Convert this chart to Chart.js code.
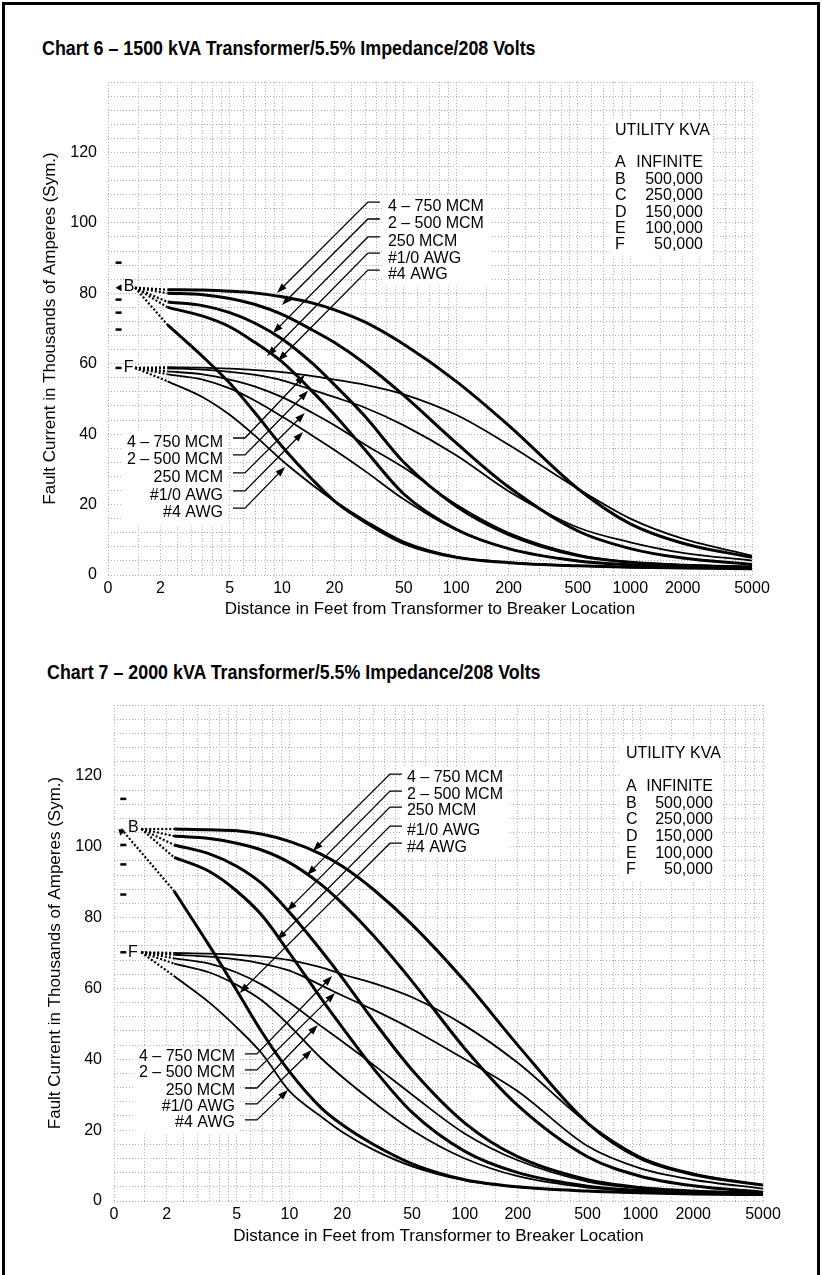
<!DOCTYPE html>
<html>
<head>
<meta charset="utf-8">
<title>Fault current vs distance</title>
<script src="https://cdn.jsdelivr.net/npm/chart.js@4.4.1/dist/chart.umd.min.js"></script>
<style>
  html, body { margin: 0; padding: 0; background: #fff; }
  body { position: relative; width: 822px; height: 1275px; overflow: hidden; }
  .frame { position: absolute; left: 2px; top: 2px; width: 812px; height: 1300px; border: 3px solid #000; }
  .heading { position: absolute; font: bold 19.5px "Liberation Sans", Arial, sans-serif; color: #000; white-space: nowrap;
             transform: scaleX(0.915); transform-origin: left center; }
  canvas { position: absolute; left: 0; }
</style>
</head>
<body>
<div class="frame"></div>
<div class="heading" style="left:42px; top:37px">Chart 6 – 1500 kVA Transformer/5.5% Impedance/208 Volts</div>
<div class="heading" style="left:47px; top:661px">Chart 7 – 2000 kVA Transformer/5.5% Impedance/208 Volts</div>
<canvas id="chart6" width="822" height="640" style="top:0"></canvas>
<canvas id="chart7" width="822" height="635" style="top:640px"></canvas>
<script>
Chart.defaults.font.family = '"Liberation Sans", Arial, Helvetica, sans-serif';
Chart.defaults.color = '#000';

// distances (ft) the curves are sampled at
const distances = [2.2, 3.5, 5, 7, 10, 15, 20, 30, 50, 100, 200, 500, 1000, 2000, 5000];
const conductors = ['4 – 750 MCM', '2 – 500 MCM', '250 MCM', '#1/0 AWG', '#4 AWG'];
const xTickValues = [1, 2, 5, 10, 20, 50, 100, 200, 500, 1000, 2000, 5000];
const xTickLabels = ['0', '2', '5', '10', '20', '50', '100', '200', '500', '1000', '2000', '5000'];
const yTickValues = [0, 20, 40, 60, 80, 100, 120];
const utilityLetters = ['A', 'B', 'C', 'D', 'E', 'F'];
const utilityKva = ['INFINITE', '500,000', '250,000', '150,000', '100,000', '50,000'];

// Chart 6, 1500 kVA: fault current (kA) with utility B (500,000 kVA)
const c6B750 = [81, 80.9, 80.6, 80.1, 79, 77.2, 75.3, 71.8, 65.5, 55, 42.5, 24.5, 14.5, 9, 5];
const c6B500 = [80, 79.6, 78.5, 76.8, 74, 69.5, 66, 60, 51, 37.5, 25, 12.5, 7.5, 4.8, 3];
const c6B250 = [77.5, 76.5, 74.5, 71.5, 67, 60, 54, 45, 32, 19.5, 11.5, 5.5, 3.6, 2.8, 2.3];
const c6B1_0 = [76, 73.5, 70.5, 66, 60.5, 52, 45.5, 35.5, 23, 13, 7.5, 4, 2.9, 2.4, 2.1];
const c6B4 = [71, 62, 54.5, 46, 36.5, 27, 21, 15, 9, 5, 3.5, 2.6, 2.2, 2, 1.8];
// ... and with utility F (50,000 kVA)
const c6F750 = [59, 58.9, 58.6, 58.2, 57.6, 56.5, 55.5, 54, 51.3, 45.5, 37, 24.5, 16, 10.3, 5.5];
const c6F500 = [58.7, 58.3, 57.7, 56.8, 55.3, 52.5, 50.5, 47.5, 42.5, 34, 23.8, 13.5, 9.3, 6.3, 4.1];
const c6F250 = [57.8, 57, 55.5, 53.5, 50.5, 46, 42.5, 37, 30.5, 20, 12, 5.8, 3.7, 2.9, 2.4];
const c6F1_0 = [57, 55.5, 53, 49.5, 45, 39.5, 35.5, 29.5, 21.5, 12.8, 7.5, 4, 2.9, 2.4, 2.1];
const c6F4 = [55, 50.5, 45.5, 39.5, 32.5, 25.5, 21, 15.5, 9.5, 5.2, 3.6, 2.6, 2.2, 2, 1.8];
// transformer terminal levels for utilities A..F
const c6Levels = [88.7, 81.6, 78.2, 74.5, 69.7, 58.8];

// Chart 7, 2000 kVA
const c7B750 = [105, 104.8, 104.5, 103.5, 101.5, 98, 94.5, 88, 78, 62, 44, 22, 12, 7.5, 4.5];
const c7B500 = [103, 102.3, 101, 99, 95.5, 89.5, 84, 75, 62, 43, 27, 12.5, 7, 4.3, 2.5];
const c7B250 = [100.5, 98, 94.5, 89.5, 81.5, 71, 63, 51, 37, 22, 12.5, 6, 3.8, 2.8, 2.2];
const c7B1_0 = [97, 93, 87.5, 80.5, 70, 57.5, 49, 37.5, 25, 14, 8, 4.2, 3, 2.4, 2];
const c7B4 = [87.5, 72, 59.5, 47.5, 36.5, 26.5, 21.5, 16, 10.5, 6, 4, 2.8, 2.3, 2, 1.8];
const c7F750 = [70, 69.8, 69.5, 69, 68, 66, 64, 61.5, 57.5, 49.5, 39, 22, 12.5, 7.8, 4.5];
const c7F500 = [69.5, 69, 68.2, 67, 65, 61, 58, 54, 48.5, 40, 31, 15.5, 9.2, 6, 3.5];
const c7F250 = [68.5, 67, 64.5, 61, 56, 49.5, 45, 38.5, 30, 19, 11.5, 5.5, 3.6, 2.7, 2.2];
const c7F1_0 = [67, 64.5, 61, 56.5, 49.5, 40.5, 35, 28, 20, 12, 7, 3.8, 2.8, 2.3, 2];
const c7F4 = [63.5, 56, 49, 41.5, 31, 24, 19.5, 14.5, 9.8, 5.8, 3.9, 2.8, 2.3, 2, 1.8];
const c7Levels = [113.5, 105, 100.5, 95, 86.5, 70.2];

// log-paper grid: minor lines inside each decade, horizontal every 4 kA
const gridMantissas = [1, 1.5, 2, 2.5, 3, 3.5, 4, 4.5, 5, 6, 7, 8, 9];
const xGrid = [];
[1, 10, 100, 1000].forEach(dec => gridMantissas.forEach(m => { if (m * dec <= 5000) xGrid.push(m * dec); }));
const yGrid = [];
for (let v = 0; v <= 140; v += 4) yGrid.push(v);

const LABEL_FONT = '16px "Liberation Sans", Arial, sans-serif';

function blockGeometry(chart, blk) {
  const {ctx} = chart;
  const sx = chart.scales.x, sy = chart.scales.y;
  ctx.font = LABEL_FONT;
  const ex = sx.getPixelForValue(blk.elbowX);
  return blk.elbowY.map((v, i) => {
    const ey = sy.getPixelForValue(v);
    return {
      ex, ey,
      tx: blk.side === 'right' ? ex + blk.textGap : ex - blk.textGap,
      ty: ey + blk.textDy,
      w: ctx.measureText(conductors[i]).width,
      px: sx.getPixelForValue(blk.tips[i][0]),
      py: sy.getPixelForValue(blk.tips[i][1])
    };
  });
}

function arrowHead(ctx, x, y, ang, len, half) {
  const bx = x - len * Math.cos(ang), by = y - len * Math.sin(ang);
  ctx.beginPath();
  ctx.moveTo(x, y);
  ctx.lineTo(bx + half * Math.sin(ang), by - half * Math.cos(ang));
  ctx.lineTo(bx - half * Math.sin(ang), by + half * Math.cos(ang));
  ctx.closePath();
  ctx.fill();
}

const overlay = {
  id: 'overlay',
  // white patches behind the text blocks, over the grid but under the curves
  beforeDatasetsDraw(chart, args, o) {
    const {ctx} = chart;
    const sx = chart.scales.x, sy = chart.scales.y;
    ctx.save();
    ctx.fillStyle = '#fff';
    [o.upper, o.lower].forEach(blk => {
      const g = blockGeometry(chart, blk);
      const maxW = Math.max(...g.map(r => r.w));
      const top = g[0].ty - 11, bottom = g[g.length - 1].ty + 11;
      const x0 = blk.side === 'right' ? g[0].tx - 5 : g[0].tx - maxW - 6;
      ctx.fillRect(x0, top, maxW + 11, bottom - top);
    });
    const lg = o.legend;
    const lx = sx.getPixelForValue(lg.left), rx = sx.getPixelForValue(lg.right);
    const ty = sy.getPixelForValue(lg.titleY), ry = sy.getPixelForValue(lg.firstRowY);
    ctx.fillRect(lx - 5, ty - 12, rx - lx + 14, ry + 5 * lg.rowGap + 12 - (ty - 12));
    ctx.restore();
  },
  afterDatasetsDraw(chart, args, o) {
    const {ctx} = chart;
    const sx = chart.scales.x, sy = chart.scales.y;
    ctx.save();
    ctx.fillStyle = '#000';
    ctx.strokeStyle = '#000';
    ctx.lineWidth = 1.3;
    ctx.textBaseline = 'middle';

    [o.upper, o.lower].forEach(blk => {
      blockGeometry(chart, blk).forEach((g, i) => {
        const tickEnd = blk.side === 'right' ? g.ex + blk.tickLen : g.ex - blk.tickLen;
        const ang = Math.atan2(g.py - g.ey, g.px - g.ex);
        ctx.beginPath();
        ctx.moveTo(tickEnd, g.ey);
        ctx.lineTo(g.ex, g.ey);
        ctx.lineTo(g.px - 8 * Math.cos(ang), g.py - 8 * Math.sin(ang));
        ctx.stroke();
        arrowHead(ctx, g.px, g.py, ang, 10, 3.5);
        ctx.font = LABEL_FONT;
        ctx.textAlign = blk.side === 'right' ? 'left' : 'right';
        ctx.fillText(conductors[i], g.tx, g.ty);
      });
    });

    // utility kVA key
    const lg = o.legend;
    const lx = sx.getPixelForValue(lg.left), rx = sx.getPixelForValue(lg.right);
    const ry = sy.getPixelForValue(lg.firstRowY);
    ctx.font = LABEL_FONT;
    ctx.textAlign = 'left';
    ctx.fillText('UTILITY KVA', lx, sy.getPixelForValue(lg.titleY));
    utilityLetters.forEach((L, i) => {
      const y = ry + i * lg.rowGap;
      ctx.textAlign = 'left';
      ctx.fillText(L, lx, y);
      ctx.textAlign = 'right';
      ctx.fillText(utilityKva[i], rx, y);
    });

    // B and F tags at the transformer end
    const mx = sx.getPixelForValue(o.markerX);
    const bY = sy.getPixelForValue(o.levels[1]);
    arrowHead(ctx, mx - 3, bY, o.bArrowAngle, 6, 3.5);
    ctx.textAlign = 'left';
    ctx.fillText('B', sx.getPixelForValue(o.letterX), bY - 1);
    ctx.fillText('F', sx.getPixelForValue(o.letterX), sy.getPixelForValue(o.levels[5]));
    ctx.restore();
  }
};

// solid curve plus the dotted lead-in from the utility level at the transformer
function curveSets(rows, width, level, leadFrom) {
  const sets = [];
  rows.forEach((row, i) => {
    sets.push({
      data: distances.map((d, k) => ({x: d, y: row[k]})),
      borderColor: '#000', borderWidth: width, pointRadius: 0,
      cubicInterpolationMode: 'monotone'
    });
    sets.push({
      data: [{x: leadFrom[i], y: level}, {x: distances[0], y: row[0]}],
      borderColor: '#000', borderWidth: 2.2, borderDash: [2, 2], pointRadius: 0
    });
  });
  return sets;
}

function buildChart(cfg) {
  const levelMarks = cfg.levels
    .map((v, i) => ({x: cfg.markerX, y: v, i}))
    .filter(p => p.i !== 1);
  const datasets = [
    ...curveSets(cfg.curvesB, 3, cfg.levels[1], cfg.leadFromB),
    ...curveSets(cfg.curvesF, 1.8, cfg.levels[5], cfg.leadFromF),
    {
      data: levelMarks, showLine: false, pointStyle: 'line',
      pointRadius: 3, pointBorderWidth: 2.5, pointBorderColor: '#000'
    }
  ];
  const gridStyle = {color: '#b0b0b0', lineWidth: 1, drawTicks: false};
  return new Chart(document.getElementById(cfg.canvas), {
    type: 'line',
    data: {datasets},
    options: {
      responsive: false,
      animation: false,
      events: [],
      layout: {padding: cfg.padding},
      plugins: {
        legend: {display: false},
        tooltip: {enabled: false},
        overlay: cfg.overlay
      },
      scales: {
        x: {
          type: 'logarithmic', min: 1, max: 5000,
          afterBuildTicks: axis => { axis.ticks = xGrid.map(v => ({value: v})); },
          afterFit: axis => { axis.height = cfg.xAxisHeight; },
          ticks: {
            autoSkip: false, maxRotation: 0, padding: 4, font: {size: 16},
            callback: v => { const i = xTickValues.indexOf(v); return i < 0 ? '' : xTickLabels[i]; }
          },
          grid: gridStyle,
          border: {display: false, dash: [1, 2]},
          title: {display: true, text: 'Distance in Feet from Transformer to Breaker Location', font: {size: 17}, padding: 0}
        },
        y: {
          min: 0, max: 140,
          afterBuildTicks: axis => { axis.ticks = yGrid.map(v => ({value: v})); },
          afterFit: axis => { axis.width = cfg.yAxisWidth; },
          ticks: {
            autoSkip: false, padding: cfg.yTickPad, font: {size: 16},
            callback: v => yTickValues.includes(v) ? String(v) : ''
          },
          grid: gridStyle,
          border: {display: false, dash: [1, 2]},
          title: {display: true, text: 'Fault Current in Thousands of Amperes (Sym.)', font: {size: 17}, padding: {top: cfg.yTitlePad, bottom: 0}}
        }
      }
    },
    plugins: [overlay]
  });
}

buildChart({
  canvas: 'chart6',
  curvesB: [c6B750, c6B500, c6B250, c6B1_0, c6B4],
  curvesF: [c6F750, c6F500, c6F250, c6F1_0, c6F4],
  levels: c6Levels,
  leadFromB: [1.43, 1.43, 1.43, 1.43, 1.43],
  leadFromF: [1.43, 1.43, 1.43, 1.43, 1.43],
  markerX: 1.15,
  padding: {left: 0, right: 70, top: 82, bottom: 20},
  yAxisWidth: 108, yTickPad: 11, yTitlePad: 40, xAxisHeight: 45,
  overlay: {
    levels: c6Levels, markerX: 1.15, letterX: 1.23, bArrowAngle: Math.PI,
    upper: {side: 'right', elbowX: 31.1, elbowY: [105.9, 101.1, 96.0, 91.4, 86.6],
      tips: [[9.35, 80.1], [9.99, 76.7], [8.87, 68.7], [8.19, 62.2], [9.47, 60.8]],
      tickLen: 12, textGap: 20, textDy: 5},
    lower: {side: 'left', elbowX: 6.12, elbowY: [38.9, 34.1, 29.0, 23.9, 19.0],
      tips: [[13.5, 56.8], [14.1, 52.3], [13.5, 46], [13.2, 40.6], [10.4, 30.7]],
      tickLen: 12, textGap: 22, textDy: 5},
    legend: {left: 817, right: 2616, titleY: 126.1, firstRowY: 117.0, rowGap: 16.4}
  }
});

buildChart({
  canvas: 'chart7',
  curvesB: [c7B750, c7B500, c7B250, c7B1_0, c7B4],
  curvesF: [c7F750, c7F500, c7F250, c7F1_0, c7F4],
  levels: c7Levels,
  leadFromB: [1.43, 1.43, 1.43, 1.43, 1.1],
  leadFromF: [1.43, 1.43, 1.43, 1.43, 1.43],
  markerX: 1.13,
  padding: {left: 0, right: 59, top: 65, bottom: 28},
  yAxisWidth: 114, yTickPad: 12, yTitlePad: 45, xAxisHeight: 46,
  overlay: {
    levels: c7Levels, markerX: 1.1, letterX: 1.2, bArrowAngle: -2.4,
    upper: {side: 'right', elbowX: 37.4, elbowY: [120.5, 115.7, 111.2, 105.8, 101.0],
      tips: [[13.6, 98.8], [12.6, 92], [9.7, 81.9], [8.5, 73.7], [5.2, 58.7]],
      tickLen: 12, textGap: 17, textDy: 4},
    lower: {side: 'left', elbowX: 6.53, elbowY: [41.5, 37, 31.9, 27.4, 22.9],
      tips: [[17.5, 63.5], [18.2, 58.7], [14.5, 49.7], [13.4, 42.6], [9.8, 31.3]],
      tickLen: 12, textGap: 22, textDy: 3},
    legend: {left: 828, right: 2594, titleY: 126.4, firstRowY: 116.9, rowGap: 16.6}
  }
});
</script>
</body>
</html>
